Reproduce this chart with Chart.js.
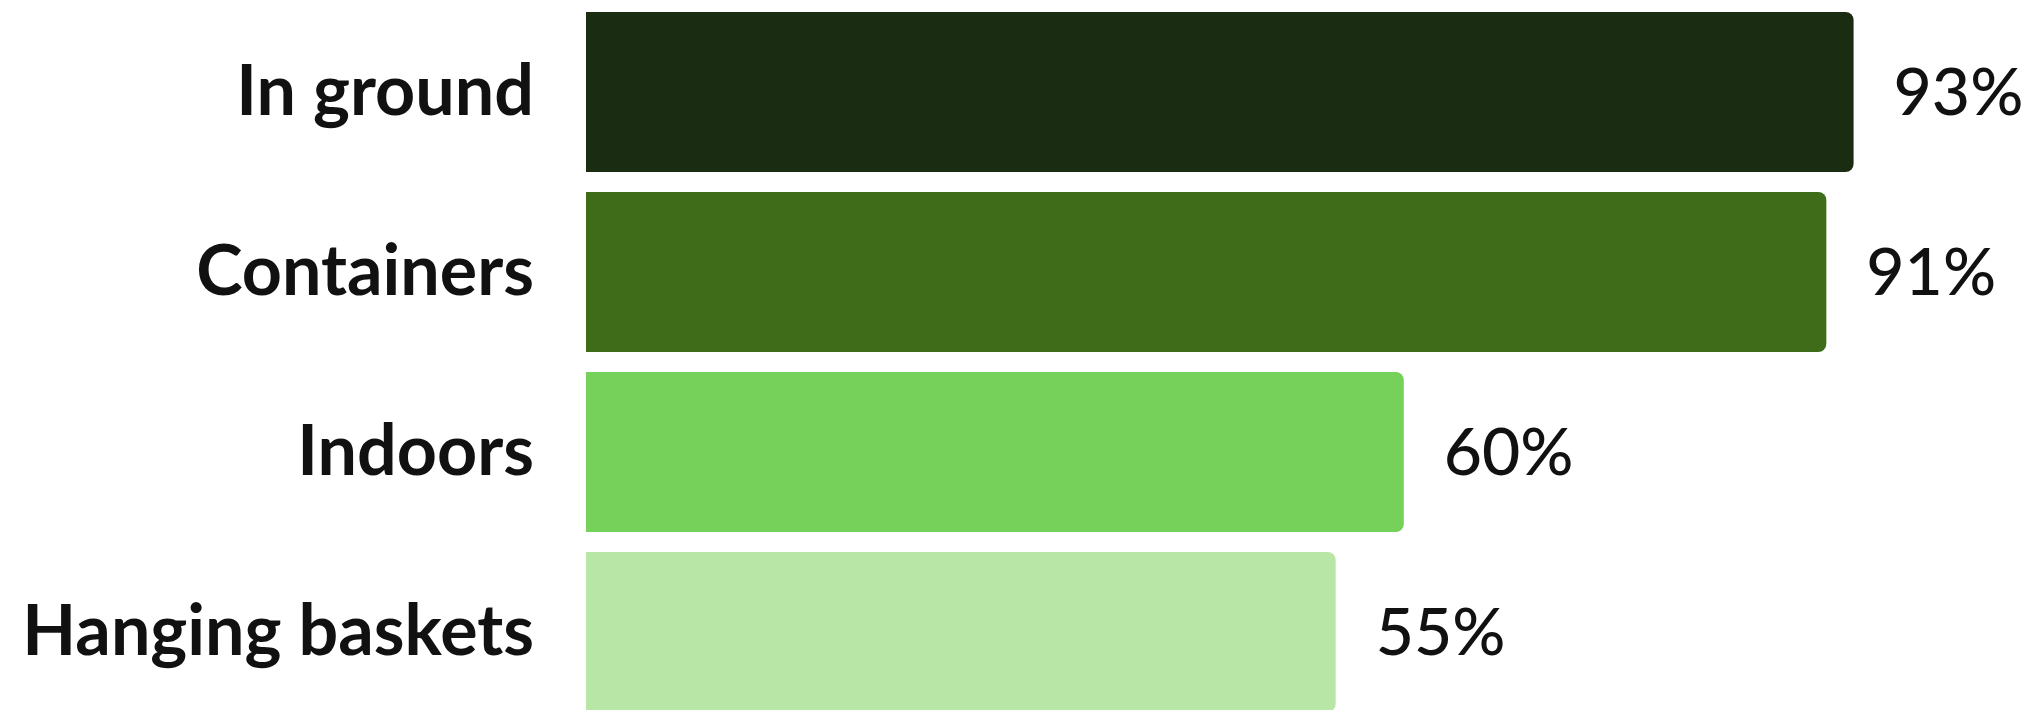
<!DOCTYPE html>
<html>
<head>
<meta charset="utf-8">
<script src="https://cdn.jsdelivr.net/npm/chart.js"></script>
<style>
  html, body { margin: 0; padding: 0; background: #fff; overflow: hidden; }
  canvas { display: block; }
</style>
</head>
<body>
<canvas id="chart" width="2021" height="724"></canvas>
<script>
const categories = ["In ground", "Containers", "Indoors", "Hanging baskets"];
const shares = [93, 91, 60, 55];
const barColors = ["#1a2d12", "#3e6c19", "#75d15a", "#b8e6a6"];

// writes "93%" etc. just past the end of each bar
const valueLabels = {
    id: "valueLabels",
    afterDatasetsDraw(chart) {
        const ctx = chart.ctx;
        const meta = chart.getDatasetMeta(0);
        ctx.save();
        ctx.font = "500 66px Lato";
        ctx.fillStyle = "#111";
        ctx.textAlign = "left";
        ctx.textBaseline = "middle";
        meta.data.forEach((bar, i) => {
            ctx.fillText(shares[i] + "%", bar.x + 40, bar.y + 2);
        });
        ctx.restore();
    }
};

new Chart(document.getElementById("chart"), {
    type: "bar",
    data: {
        labels: categories,
        datasets: [{
            data: shares,
            backgroundColor: barColors,
            borderRadius: 8,
            borderSkipped: "start",
            barPercentage: 0.889,
            categoryPercentage: 1
        }]
    },
    options: {
        indexAxis: "y",
        responsive: false,
        animation: false,
        layout: { padding: { top: 2, bottom: 2, left: 0, right: 72 } },
        plugins: {
            legend: { display: false },
            tooltip: { enabled: false }
        },
        scales: {
            x: {
                display: false,
                min: 0,
                max: 100
            },
            y: {
                grid: { display: false, drawTicks: false },
                border: { display: false },
                ticks: {
                    color: "#111",
                    padding: 52,
                    font: { family: "Lato", size: 70, weight: "bold" }
                },
                afterFit(scale) {
                    // fixed label column, no extra room above/below the bars
                    scale.width = 586;
                    scale.paddingTop = 0;
                    scale.paddingBottom = 0;
                }
            }
        }
    },
    plugins: [valueLabels]
});
</script>
</body>
</html>
